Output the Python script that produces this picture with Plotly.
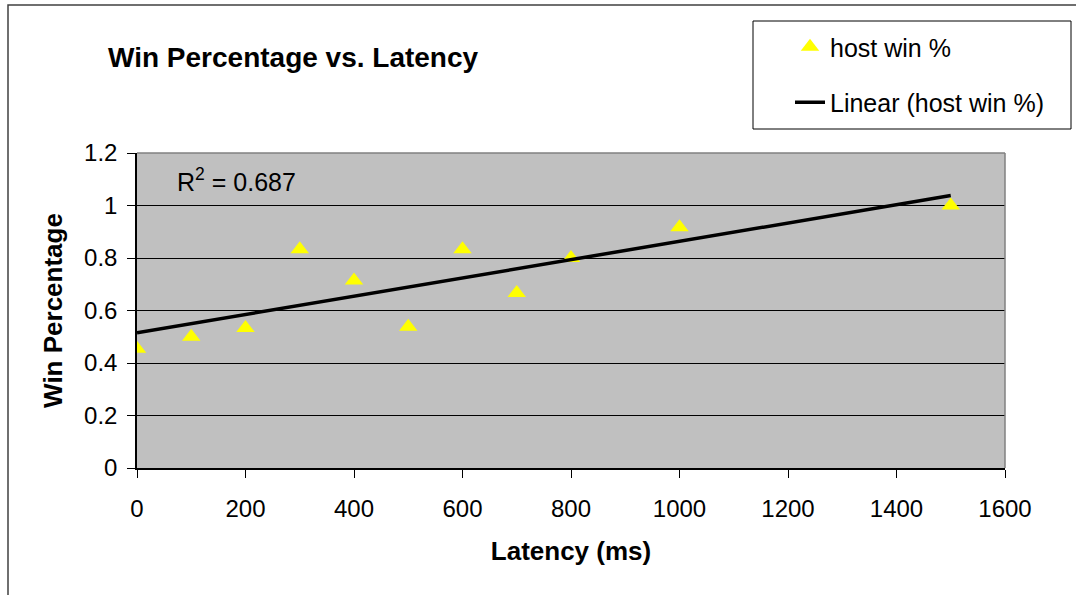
import numpy as np
import plotly.graph_objects as go

# Host win percentage measured at each added latency (ms)
latency_ms = [0, 100, 200, 300, 400, 500, 600, 700, 800, 1000, 1500]
host_win = [0.4545, 0.5, 0.5333, 0.8333, 0.7143, 0.5385, 0.8333, 0.6667, 0.8, 0.9167, 1.0]
r_squared_label = "0.687"

x_ticks = [0, 200, 400, 600, 800, 1000, 1200, 1400, 1600]
y_ticks = [0, 0.2, 0.4, 0.6, 0.8, 1, 1.2]
y_tick_text = ["0", "0.2", "0.4", "0.6", "0.8", "1", "1.2"]

# Least-squares linear trend over the data range
slope, intercept = np.polyfit(latency_ms, host_win, 1)
trend_x = [min(latency_ms), max(latency_ms)]
trend_y = [intercept + slope * v for v in trend_x]

W, H = 1076, 595
L, R, T, B = 137, 1005, 153, 468   # plot area edges in pixels

FONT = "Liberation Sans, Arial, sans-serif"

fig = go.Figure()
fig.add_trace(go.Scatter(
    x=latency_ms, y=host_win, mode="markers", name="host win %",
    legendgroup="a",
    marker=dict(symbol="triangle-up", size=16, color="#FFFF00", line=dict(width=0)),
))
fig.add_trace(go.Scatter(
    x=trend_x, y=trend_y, mode="lines", name="Linear (host win %)",
    legendgroup="b",
    line=dict(color="black", width=3.5),
))


def px_x(p):
    return (p - L) / (R - L)


def px_y(p):
    return (B - p) / (B - T)


shapes = [
    # outer chart border (runs off the right and bottom)
    dict(type="rect", xref="paper", yref="paper",
         x0=px_x(8), x1=px_x(1100), y0=px_y(620), y1=px_y(5),
         line=dict(color="#404040", width=1.5), fillcolor="rgba(0,0,0,0)", layer="below"),
    # legend frame
    dict(type="rect", xref="paper", yref="paper",
         x0=px_x(753), x1=px_x(1071), y0=px_y(129), y1=px_y(21),
         line=dict(color="black", width=1), fillcolor="white", layer="below"),
    # grey plot-area frame on top and right
    dict(type="line", xref="paper", yref="paper", x0=0, x1=1, y0=1, y1=1,
         line=dict(color="#808080", width=1.5), layer="above"),
    dict(type="line", xref="paper", yref="paper", x0=1, x1=1, y0=0, y1=1,
         line=dict(color="#808080", width=1.5), layer="above"),
]

fig.update_layout(
    width=W, height=H,
    margin=dict(l=L, r=W - R, t=T, b=H - B, autoexpand=False),
    paper_bgcolor="white",
    plot_bgcolor="#C0C0C0",
    font=dict(family=FONT, size=25, color="black"),
    title=dict(text="<b>Win Percentage vs. Latency</b>", font=dict(size=28),
               xref="container", yref="container",
               x=108 / W, xanchor="left", y=1 - 57 / H, yanchor="middle"),
    showlegend=True,
    legend=dict(xref="container", yref="container",
                x=790 / W, xanchor="left", y=1 - 24 / H, yanchor="top",
                bgcolor="rgba(0,0,0,0)", borderwidth=0,
                font=dict(size=25), tracegroupgap=20, traceorder="grouped"),
    shapes=shapes,
    annotations=[dict(
        text="R<sup>2</sup> = " + r_squared_label, xref="paper", yref="paper",
        x=px_x(175), y=px_y(180), xanchor="left", yanchor="middle",
        showarrow=False, font=dict(size=25),
    )],
)

fig.update_xaxes(
    range=[0, 1600], tickvals=x_ticks, showgrid=False, zeroline=False,
    showline=True, linecolor="black", linewidth=1.5,
    ticks="outside", ticklen=8, tickcolor="black",
    tickfont=dict(size=24), ticklabelstandoff=10,
    title=dict(text="<b>Latency (ms)</b>", font=dict(size=26), standoff=21),
)
fig.update_yaxes(
    range=[0, 1.2], tickvals=y_ticks, ticktext=y_tick_text,
    showgrid=True, gridcolor="#000000", gridwidth=1, zeroline=False,
    showline=True, linecolor="black", linewidth=1.5,
    ticks="outside", ticklen=8, tickcolor="black",
    tickfont=dict(size=24), ticklabelstandoff=5,
    title=dict(text="<b>Win Percentage</b>", font=dict(size=26), standoff=14),
)

fig.write_html("out.html")
